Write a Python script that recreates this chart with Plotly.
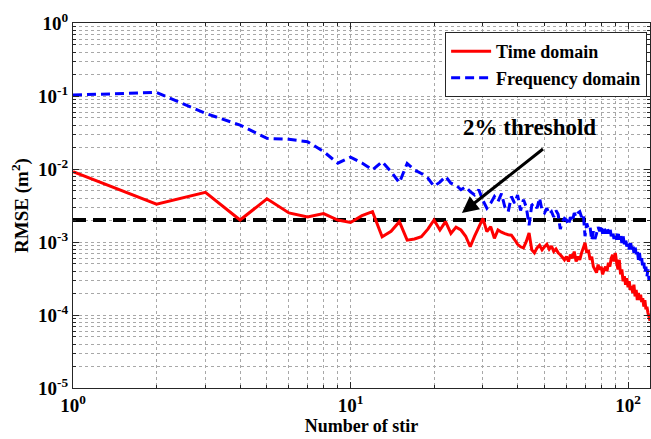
import numpy as np
import plotly.graph_objects as go

stirs = list(range(1, 121))

time_domain = [
    0.0092, 0.0033, 0.0048, 0.0020, 0.0039, 0.0025, 0.0022, 0.00245, 0.0020, 0.00185,
    0.0023, 0.0026, 0.00118, 0.0014, 0.0019, 0.00106, 0.0011, 0.00118, 0.0015, 0.0020,
    0.00146, 0.0019, 0.00131, 0.0016, 0.00146, 0.0012, 0.00086, 0.0012, 0.0016, 0.0021,
    0.00139, 0.00162, 0.00112, 0.00146, 0.00136, 0.0013, 0.00126, 0.00124, 0.00108, 0.00093,
    0.00086, 0.00083, 0.00102, 0.00133, 0.00078, 0.00071, 0.00083, 0.0009, 0.00078, 0.00086,
    0.00093, 0.0008, 0.00088, 0.00074, 0.0008, 0.00071, 0.00067, 0.00062, 0.00057, 0.00063,
    0.00054, 0.00067, 0.0006, 0.00074, 0.00054, 0.00063, 0.00057, 0.00071, 0.00083, 0.00098,
    0.00071, 0.00078, 0.00057, 0.00063, 0.00046, 0.00042, 0.00038, 0.00049, 0.00042, 0.00046,
    0.00036, 0.00042, 0.00046, 0.0004, 0.00052, 0.00046, 0.0006, 0.00067, 0.00054, 0.00071,
    0.00052, 0.00042, 0.00057, 0.00036, 0.00042, 0.00029, 0.00034, 0.00026, 0.00032, 0.00024,
    0.00029, 0.00022, 0.00025, 0.0002, 0.00026, 0.00018, 0.00022, 0.00016, 0.0002, 0.00016,
    0.00019, 0.00015, 0.00017, 0.00013, 0.00016, 0.00012, 0.00013, 0.000107, 0.000095, 0.000083,
]

frequency_domain = [
    0.103, 0.112, 0.058, 0.040, 0.0263, 0.0255, 0.0237, 0.0173, 0.012, 0.0145,
    0.0121, 0.0097, 0.0126, 0.0092, 0.0065, 0.0119, 0.0097, 0.0087, 0.0075, 0.0058,
    0.0066, 0.0079, 0.0064, 0.0060, 0.0052, 0.0057, 0.0049, 0.0044, 0.0052, 0.0037,
    0.0029, 0.0034, 0.0042, 0.0036, 0.0046, 0.0030, 0.0026, 0.0042, 0.0034, 0.0044,
    0.0027, 0.0038, 0.0030, 0.0017, 0.0032, 0.0034, 0.0029, 0.0040, 0.0027, 0.0025,
    0.0029, 0.0024, 0.0026, 0.0022, 0.0027, 0.0024, 0.0015, 0.0019, 0.0021, 0.0020,
    0.0017, 0.0022, 0.0019, 0.0025, 0.0022, 0.0025, 0.0026, 0.0022, 0.0024, 0.0012,
    0.0018, 0.0015, 0.0016, 0.00105, 0.0014, 0.0011, 0.0013, 0.0016, 0.0014, 0.0017,
    0.0013, 0.0016, 0.0013, 0.0016, 0.0013, 0.0016, 0.0012, 0.0014, 0.0011, 0.0013,
    0.00108, 0.0014, 0.00108, 0.0013, 0.00097, 0.0012, 0.00093, 0.00108, 0.00087, 0.00097,
    0.00079, 0.00105, 0.00079, 0.00093, 0.00071, 0.00087, 0.00068, 0.00079, 0.00057, 0.00071,
    0.00052, 0.0006, 0.00044, 0.00052, 0.00038, 0.00046, 0.00034, 0.00042, 0.0003, 0.00031,
]

threshold = 0.002
x_range = [1, 120]
y_range = [1e-5, 1]

x_major = [1, 10, 100]
x_major_text = ["10<sup>0</sup>", "10<sup>1</sup>", "10<sup>2</sup>"]
y_major = [1e-5, 1e-4, 1e-3, 1e-2, 1e-1, 1]
y_major_text = ["10<sup>-5</sup>", "10<sup>-4</sup>", "10<sup>-3</sup>",
                "10<sup>-2</sup>", "10<sup>-1</sup>", "10<sup>0</sup>"]
x_minor = [m * 10 ** e for e in range(0, 3) for m in range(2, 10) if m * 10 ** e <= 120]
y_minor = [m * 10.0 ** e for e in range(-5, 0) for m in range(2, 10)]

FONT = "Liberation Serif"
AX = "#262626"
GRID = "#a8a8a8"

fig = go.Figure()
fig.add_trace(go.Scatter(x=[x_range[0], x_range[1]], y=[threshold, threshold], mode="lines",
                         line=dict(color="black", width=4, dash="13px,7px"),
                         showlegend=False, hoverinfo="skip"))
fig.add_trace(go.Scatter(x=stirs, y=frequency_domain, mode="lines", name="Frequency domain",
                         line=dict(color="#0000ff", width=3, dash="9px,5px", simplify=False)))
fig.add_trace(go.Scatter(x=stirs, y=time_domain, mode="lines", name="Time domain",
                         line=dict(color="#ff0000", width=3, simplify=False)))

axis_common = dict(
    type="log", showline=True, linecolor=AX, linewidth=1, mirror="allticks",
    ticks="inside", ticklen=6, tickcolor=AX,
    showgrid=True, gridcolor=GRID, gridwidth=1, griddash="dot",
    tickfont=dict(family=FONT, size=19, color="black", weight="bold"),
    zeroline=False,
)

fig.update_xaxes(**axis_common, range=[np.log10(x_range[0]), np.log10(x_range[1])],
                 tickmode="array", tickvals=x_major, ticktext=x_major_text,
                 minor=dict(tickmode="array", tickvals=x_minor, showgrid=True, gridcolor=GRID,
                            griddash="dot", gridwidth=1, ticks="inside", ticklen=3, tickcolor=AX),
                 title=dict(text="Number of stir", font=dict(family=FONT, size=18, color="black", weight="bold"),
                            standoff=4))
fig.update_yaxes(**axis_common, range=[np.log10(y_range[0]), np.log10(y_range[1])],
                 tickmode="array", tickvals=y_major, ticktext=y_major_text,
                 minor=dict(tickmode="array", tickvals=y_minor, showgrid=True, gridcolor=GRID,
                            griddash="dot", gridwidth=1, ticks="inside", ticklen=3, tickcolor=AX),
                 title=dict(text="RMSE (m<sup>2</sup>)", font=dict(family=FONT, size=19, color="black", weight="bold"),
                            standoff=4))

fig.add_annotation(x=np.log10(25.2), y=np.log10(0.0025), ax=np.log10(50), ay=np.log10(0.0195),
                   xref="x", yref="y", axref="x", ayref="y", text="", showarrow=True,
                   arrowhead=2, arrowsize=1.1, arrowwidth=3, arrowcolor="black")
fig.add_annotation(x=np.log10(44), y=np.log10(0.0375), xref="x", yref="y", text="2% threshold",
                   showarrow=False, font=dict(family=FONT, size=23, color="black", weight="bold"))

fig.update_layout(
    width=651, height=439,
    margin=dict(l=73, r=1, t=23, b=51),
    paper_bgcolor="white", plot_bgcolor="white",
    legend=dict(x=0.995, y=0.975, xanchor="right", yanchor="top", traceorder="reversed",
                bgcolor="white", bordercolor=AX, borderwidth=1,
                font=dict(family=FONT, size=18, color="black", weight="bold"),
                itemwidth=40, tracegroupgap=0),
    showlegend=True,
)

fig.write_html("out.html")
